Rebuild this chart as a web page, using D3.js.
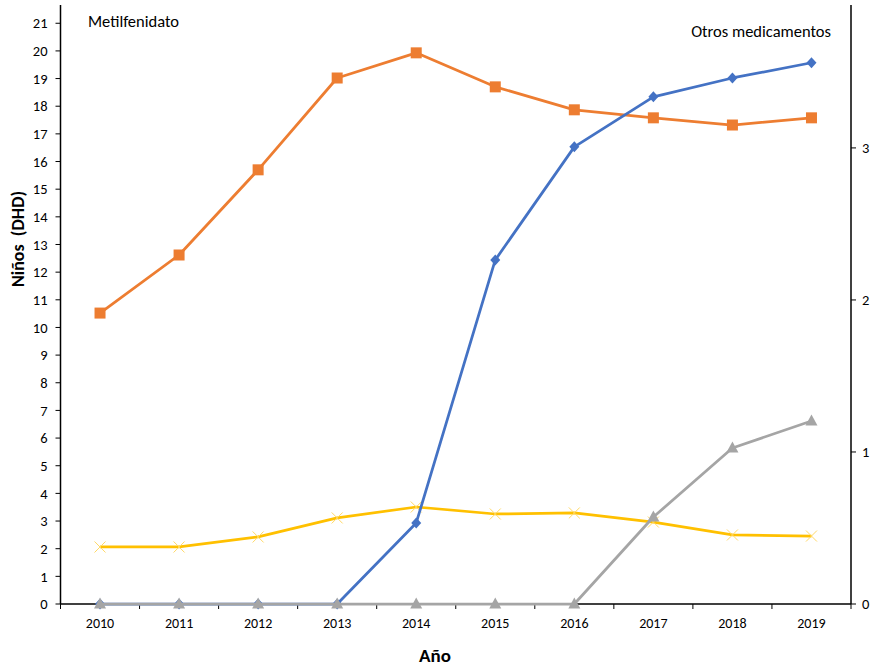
<!DOCTYPE html>
<html>
<head>
<meta charset="utf-8">
<script src="https://cdn.jsdelivr.net/npm/d3@7/dist/d3.min.js"></script>
<style>
  html, body { margin: 0; padding: 0; background: #fff; }
  svg { display: block; font-family: Carlito, Lato, "Open Sans", sans-serif; }
</style>
</head>
<body>
<svg id="chart" width="875" height="667"></svg>
<script>
// Años (categorías del eje X)
const years = ["2010","2011","2012","2013","2014","2015","2016","2017","2018","2019"];

// Metilfenidato (eje izquierdo)
const metilfenidato = [10.52, 12.62, 15.70, 19.02, 19.93, 18.70, 17.87, 17.58, 17.32, 17.58];

// Otros medicamentos (eje derecho)
const serieAzul     = [0, 0, 0, 0, 0.533, 2.263, 3.007, 3.336, 3.46, 3.56];
const serieGris     = [0, 0, 0, 0, 0, 0, 0, 0.572, 1.026, 1.204];
const serieAmarilla = [0.375, 0.375, 0.441, 0.566, 0.638, 0.592, 0.599, 0.539, 0.454, 0.447];

// Ticks de los ejes
const leftTicks  = d3.range(0, 22);
const rightTicks = [0, 1, 2, 3];
const leftMax = 21.66;
const rightMax = 3.94;

const svg = d3.select("#chart");
const margin = { left: 60.5, right: 24, top: 5, bottom: 63 };
const W = 875, H = 667;
const x0 = margin.left, x1 = W - margin.right;
const y0 = H - margin.bottom, y1 = margin.top;

const x = d3.scaleBand().domain(years).range([x0, x1]);
const yL = d3.scaleLinear().domain([0, leftMax]).range([y0, y1]);
const yR = d3.scaleLinear().domain([0, rightMax]).range([y0, y1]);
const cx = d => x(d) + x.bandwidth() / 2;

// Eje X
const gx = svg.append("g").attr("transform", `translate(0,${y0})`);
gx.append("line").attr("x1", x0).attr("x2", x1).attr("stroke", "#000").attr("stroke-width", 1.5);
const bounds = years.map(d => x(d)).concat([x1]);
gx.selectAll("line.tk").data(bounds).enter().append("line")
  .attr("class", "tk").attr("x1", d => d).attr("x2", d => d)
  .attr("y1", 0).attr("y2", 5).attr("stroke", "#000").attr("stroke-width", 1);
gx.selectAll("text").data(years).enter().append("text")
  .attr("x", d => cx(d)).attr("y", 24).attr("text-anchor", "middle")
  .attr("font-size", 14).attr("fill", "#000").text(d => d);

// Eje izquierdo
const gl = svg.append("g").attr("transform", `translate(${x0},0)`);
gl.append("line").attr("y1", y1).attr("y2", y0).attr("stroke", "#000").attr("stroke-width", 1.5);
gl.selectAll("line.tk").data(leftTicks).enter().append("line")
  .attr("class", "tk").attr("x1", -5).attr("x2", 0)
  .attr("y1", d => yL(d)).attr("y2", d => yL(d)).attr("stroke", "#000");
gl.selectAll("text").data(leftTicks).enter().append("text")
  .attr("x", -13).attr("y", d => yL(d)).attr("dy", "0.36em").attr("text-anchor", "end")
  .attr("font-size", 14.5).attr("fill", "#000").text(d => d);

// Eje derecho
const gr = svg.append("g").attr("transform", `translate(${x1},0)`);
gr.append("line").attr("y1", y1).attr("y2", y0).attr("stroke", "#000").attr("stroke-width", 1.5);
gr.selectAll("line.tk").data(rightTicks).enter().append("line")
  .attr("class", "tk").attr("x1", 0).attr("x2", 5)
  .attr("y1", d => yR(d)).attr("y2", d => yR(d)).attr("stroke", "#000");
gr.selectAll("text").data(rightTicks).enter().append("text")
  .attr("x", 11).attr("y", d => yR(d)).attr("dy", "0.36em").attr("text-anchor", "start")
  .attr("font-size", 14.5).attr("fill", "#000").text(d => d);

// Títulos
svg.append("text").attr("transform", `translate(24,239) rotate(-90)`)
  .attr("text-anchor", "middle").attr("font-size", 18).attr("font-weight", "bold")
  .attr("xml:space", "preserve").text("Niños  (DHD)");
svg.append("text").attr("x", 435).attr("y", 662).attr("text-anchor", "middle")
  .attr("font-size", 19).attr("font-weight", "bold").text("Año");
svg.append("text").attr("x", 88).attr("y", 27).attr("font-size", 16.5).text("Metilfenidato");
svg.append("text").attr("x", 831).attr("y", 37).attr("text-anchor", "end")
  .attr("font-size", 16.5).text("Otros medicamentos");

// Series
function drawSeries(values, scale, color, marker) {
  const pts = values.map((v, i) => [cx(years[i]), scale(v)]);
  svg.append("path").datum(pts)
    .attr("d", d3.line())
    .attr("fill", "none").attr("stroke", color).attr("stroke-width", 2.75)
    .attr("stroke-linejoin", "round");
  const g = svg.append("g");
  pts.forEach(([px, py]) => {
    if (marker === "square") {
      g.append("rect").attr("x", px - 5.5).attr("y", py - 5.5).attr("width", 11).attr("height", 11).attr("fill", color);
    } else if (marker === "diamond") {
      g.append("path").attr("d", `M${px},${py - 5.5}L${px + 5},${py}L${px},${py + 5.5}L${px - 5},${py}Z`).attr("fill", color);
    } else if (marker === "triangle") {
      g.append("path").attr("d", `M${px},${py - 6.5}L${px + 6},${py + 4.5}L${px - 6},${py + 4.5}Z`).attr("fill", color);
    } else if (marker === "x") {
      g.append("path").attr("d", `M${px - 5.5},${py - 5.5}L${px + 5.5},${py + 5.5}M${px + 5.5},${py - 5.5}L${px - 5.5},${py + 5.5}`)
        .attr("stroke", "#FFD966").attr("stroke-width", 1).attr("fill", "none");
    }
  });
}

drawSeries(metilfenidato, yL, "#ED7D31", "square");
drawSeries(serieAmarilla, yR, "#FFC000", "x");
drawSeries(serieAzul, yR, "#4472C4", "diamond");
drawSeries(serieGris, yR, "#A5A5A5", "triangle");
</script>
</body>
</html>
